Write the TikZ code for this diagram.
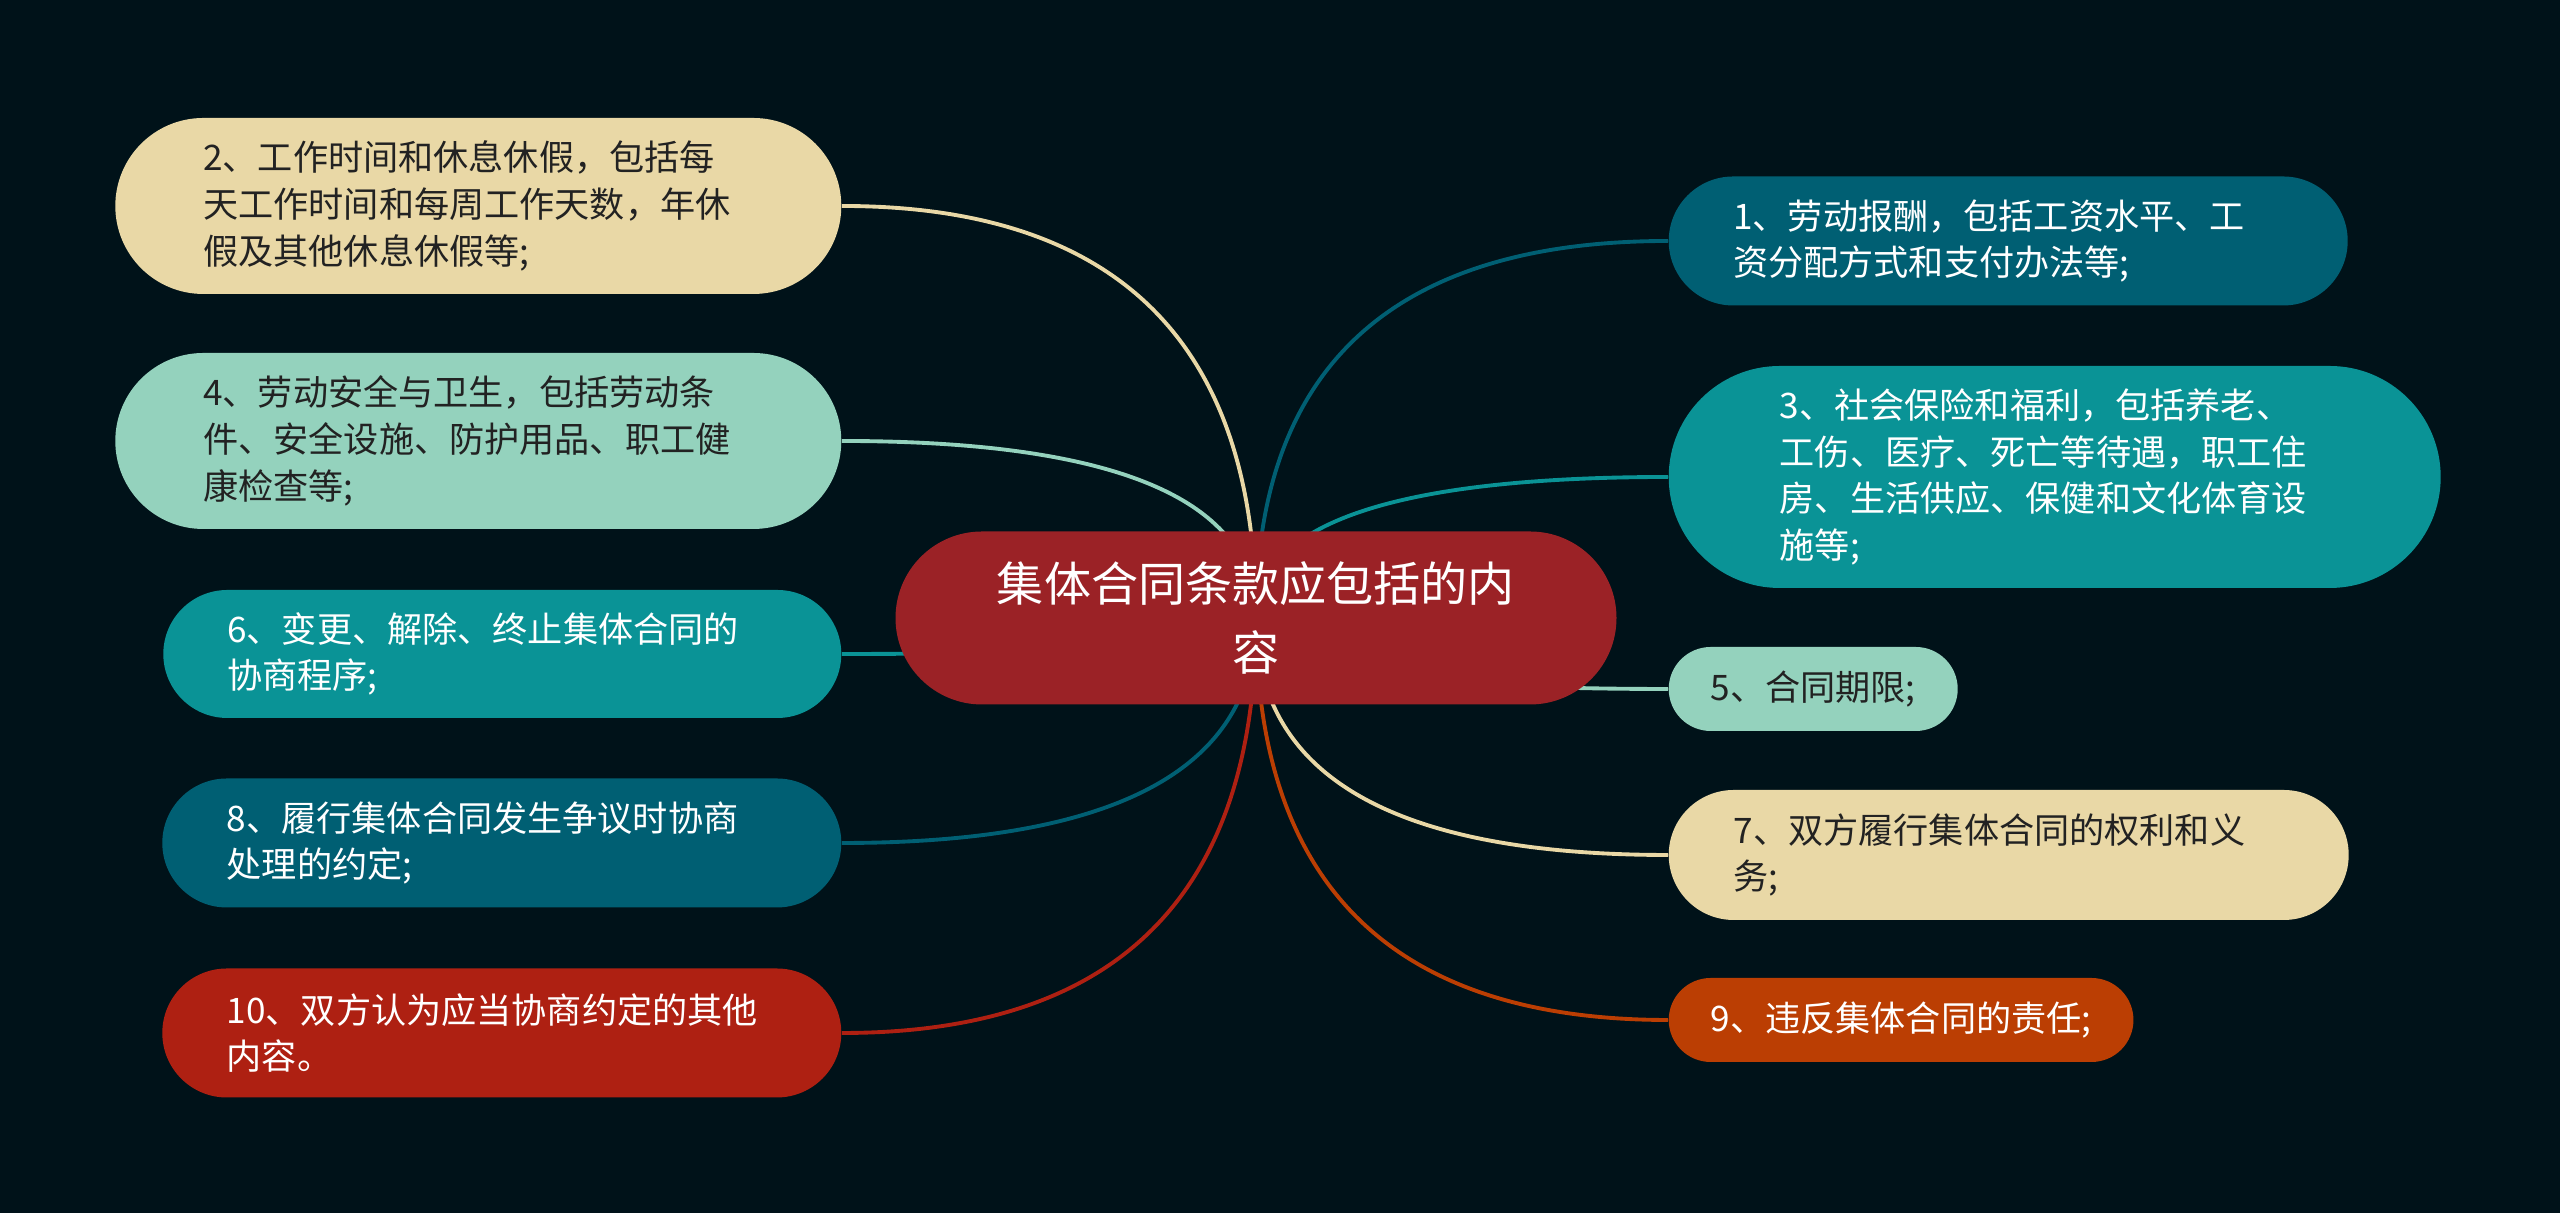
\documentclass[tikz,border=0pt]{standalone}
\usepackage{fontspec}
\setmainfont{Noto Sans CJK SC}
\usetikzlibrary{calc,backgrounds}
\definecolor{bgnight}{HTML}{001219}
\definecolor{rootred}{HTML}{9B2226}
\definecolor{deepteal}{HTML}{005F73}
\definecolor{midteal}{HTML}{0A9396}
\definecolor{mint}{HTML}{94D2BD}
\definecolor{sand}{HTML}{E9D8A6}
\definecolor{rust}{HTML}{BB3E03}
\definecolor{brick}{HTML}{AE2012}
\definecolor{ink}{HTML}{222222}
\begin{document}
\begin{tikzpicture}[
	leaf/.style={rounded corners=#1, minimum height=2*#1, inner xsep=#1, inner ysep=0pt, align=left, font=\fontsize{10}{13.3}\selectfont},
	wide/.style={text width=5.5cm},
	light/.style={text=ink},
	dark/.style={text=white},
	link/.style={line width=1.1pt}
]
	\useasboundingbox (0,0) rectangle (25.6,12.13);
	\node[fill=rootred, text=white, minimum width=7.21cm, minimum height=1.73cm, rounded corners=0.865cm, align=center, inner sep=0pt, font=\fontsize{13.4}{19.6}\selectfont] (root) at (12.56,5.95) {集体合同条款应包括的内\\容};
	% left side
	\node[leaf=0.88cm, wide, fill=sand, light, anchor=east] (n2) at (8.42,10.07) {2、工作时间和休息休假，包括每\\天工作时间和每周工作天数，年休\\假及其他休息休假等;};
	\node[leaf=0.88cm, wide, fill=mint, light, anchor=east] (n4) at (8.42,7.72) {4、劳动安全与卫生，包括劳动条\\件、安全设施、防护用品、职工健\\康检查等;};
	\node[leaf=0.64cm, wide, fill=midteal, dark, anchor=east] (n6) at (8.42,5.59) {6、变更、解除、终止集体合同的\\协商程序;};
	\node[leaf=0.645cm, wide, fill=deepteal, dark, anchor=east] (n8) at (8.42,3.70) {8、履行集体合同发生争议时协商\\处理的约定;};
	\node[leaf=0.645cm, wide, fill=brick, dark, anchor=east] (n10) at (8.42,1.80) {10、双方认为应当协商约定的其他\\内容。};
	% right side
	\node[leaf=0.645cm, wide, fill=deepteal, dark, anchor=west] (n1) at (16.68,9.72) {1、劳动报酬，包括工资水平、工\\资分配方式和支付办法等;};
	\node[leaf=1.11cm, wide, fill=midteal, dark, anchor=west] (n3) at (16.68,7.36) {3、社会保险和福利，包括养老、\\工伤、医疗、死亡等待遇，职工住\\房、生活供应、保健和文化体育设\\施等;};
	\node[leaf=0.42cm, fill=mint, light, anchor=west] (n5) at (16.68,5.24) {5、合同期限;};
	\node[leaf=0.65cm, wide, fill=sand, light, anchor=west] (n7) at (16.68,3.58) {7、双方履行集体合同的权利和义\\务;};
	\node[leaf=0.42cm, fill=rust, dark, anchor=west] (n9) at (16.68,1.93) {9、违反集体合同的责任;};
	% branches
	\begin{scope}[on background layer]
		\fill[bgnight] (0,0) rectangle (25.6,12.13);
		\foreach \kid/\col in {n2.east/sand, n4.east/mint, n6.east/midteal, n8.east/deepteal, n10.east/brick, n1.west/deepteal, n3.west/midteal, n5.west/mint, n7.west/sand, n9.west/rust} {
			\coordinate (bend) at (root.center |- \kid);
			\draw[link, \col] (root.center) .. controls ($(root.center)!2/3!(bend)$) and ($(\kid)!2/3!(bend)$) .. (\kid);
		}
	\end{scope}
\end{tikzpicture}
\end{document}
